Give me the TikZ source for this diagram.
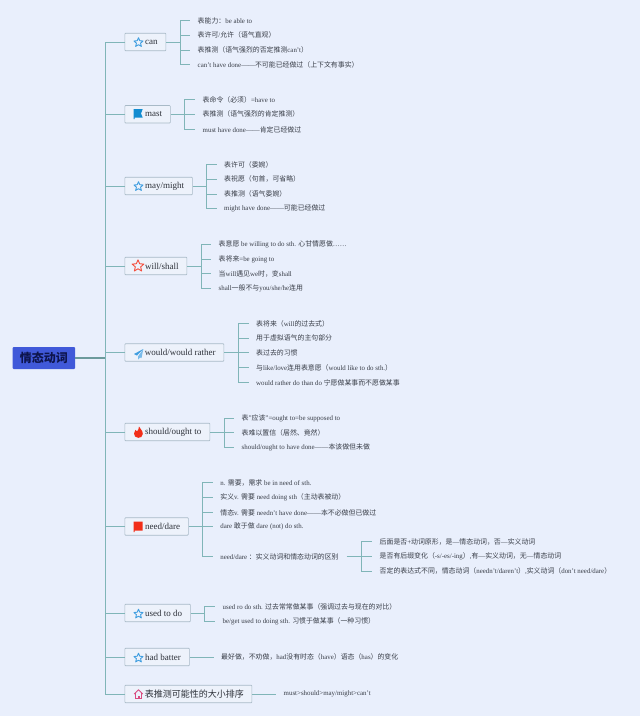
\documentclass[tikz,border=0pt]{standalone}
\usepackage{fontspec}
\usepackage{tikz}
\setmainfont{Liberation Serif}
\newfontfamily\cjk{Noto Sans CJK SC}

% CJK runs pick their own font
\newXeTeXintercharclass\zhclass
\count255="4E00
\loop \XeTeXcharclass\count255=\zhclass \ifnum\count255<"9FFF \advance\count255 by 1 \repeat
\count255="FF00
\loop \XeTeXcharclass\count255=\zhclass \ifnum\count255<"FFEF \advance\count255 by 1 \repeat
\count255="3000
\loop \XeTeXcharclass\count255=\zhclass \ifnum\count255<"303F \advance\count255 by 1 \repeat
\XeTeXinterchartoks 0 \zhclass = {\cjk}
\XeTeXinterchartoks 4095 \zhclass = {\cjk}
\XeTeXinterchartoks \zhclass 0 = {\rmfamily}
\XeTeXinterchartoks \zhclass 4095 = {\rmfamily}
\XeTeXinterchartokenstate=1

\definecolor{mpaper}{rgb}{0.914, 0.937, 0.988}
\definecolor{mteal}{rgb}{0.50, 0.71, 0.72}
\definecolor{mroot}{rgb}{0.25, 0.35, 0.85}
\definecolor{mnavy}{rgb}{0.05, 0.08, 0.30}
\definecolor{mbox}{rgb}{0.93, 0.95, 0.985}
\definecolor{medge}{rgb}{0.66, 0.73, 0.78}
\definecolor{mink}{rgb}{0.22, 0.24, 0.28}
\definecolor{mstar}{rgb}{0.25, 0.62, 0.88}
\definecolor{mflag}{rgb}{0.07, 0.55, 0.82}
\definecolor{mred}{rgb}{0.95, 0.18, 0.10}
\definecolor{mpink}{rgb}{0.85, 0.30, 0.50}

\tikzset{branch/.style = {draw=medge, fill=mbox, line width=0.7pt, rounded corners=0.8pt, anchor=west,
                          minimum height=17.5, inner xsep=0, inner ysep=0, text=mink!80!black,
                          font=\fontsize{9}{10}\selectfont},
         leaf/.style = {anchor=west, inner xsep=7.5, inner ysep=0, text=mink,
                        font=\fontsize{6.9}{8}\selectfont},
         twig/.style = {draw=mteal, line width=0.8pt},
         bough/.style = {draw=mteal, line width=0.9pt}}

\begin{document}
\begin{tikzpicture}[x=1pt, y=-1pt]
  \useasboundingbox (0, 0) rectangle (640, 716);
  \fill [mpaper] (0, 0) rectangle (640, 716);

  % root and the branch boxes
  \node (root) at (12.5, 358) [anchor=west, fill=mroot, rounded corners=1pt, minimum width=62.5, minimum height=22,
                               inner sep=0, text=mnavy, font=\fontsize{12}{13}\selectfont\bfseries] {情态动词};
  \coordinate (spine) at (105, 358);

  \node (can) at (124.5, 42) [branch, minimum width=41] {\hspace*{12pt}can};
  \node (mast) at (124.5, 114.3) [branch, minimum width=45.5] {\hspace*{12pt}mast};
  \node (may) at (124.5, 186) [branch, minimum width=67.5] {\hspace*{12pt}may/might};
  \node (will) at (124.5, 266) [branch, minimum width=62] {\hspace*{12pt}will/shall};
  \node (would) at (124.5, 352.5) [branch, minimum width=99] {\hspace*{12pt}would/would rather};
  \node (should) at (124.5, 432) [branch, minimum width=85] {\hspace*{12pt}should/ought to};
  \node (need) at (124.5, 526.4) [branch, minimum width=63.5] {\hspace*{12pt}need/dare};
  \node (used) at (124.5, 613) [branch, minimum width=65.5] {\hspace*{12pt}used to do};
  \node (had) at (124.5, 657) [branch, minimum width=64.5] {\hspace*{12pt}had batter};
  \node (order) at (124.5, 694) [branch, minimum width=127] {\hspace*{12pt}表推测可能性的大小排序};

  \draw [bough, line width=1.4pt, draw=mteal!85!black] (root) -- (spine);
  \foreach \b in {can,mast,may,will,would,should,need,used,had,order} {
    \draw [bough] (spine) |- (\b.west);
  }

  % blue stars
  \foreach \cx/\cy in {138.5/42.5, 138.5/186.5, 138.5/614, 138.5/658} {
    \begin{scope}[shift={(\cx, \cy)}]
      \draw [mstar, line width=0.9pt, line join=round] (90:-4.8) -- (54:-2.2) -- (18:-4.8) -- (-18:-2.2) -- (-54:-4.8)
        -- (-90:-2.2) -- (-126:-4.8) -- (-162:-2.2) -- (-198:-4.8) -- (-234:-2.2) -- cycle;
    \end{scope}
  }
  % red star
  \begin{scope}[shift={(138, 266)}]
    \draw [mred!85!white, line width=0.9pt, line join=round] (90:-6.2) -- (54:-2.8) -- (18:-6.2) -- (-18:-2.8) -- (-54:-6.2)
      -- (-90:-2.8) -- (-126:-6.2) -- (-162:-2.8) -- (-198:-6.2) -- (-234:-2.8) -- cycle;
  \end{scope}
  % flags
  \fill [mflag] (133.7, 109) -- (142.7, 109) -- (141, 113.5) -- (142.7, 117.5) -- (134.5, 117.5) -- (134.5, 119) -- (133.7, 119) -- cycle;
  \fill [mred] (133.7, 521.5) -- (142.7, 521.5) -- (142.7, 530.5) -- (134.5, 530.5) -- (134.5, 532) -- (133.7, 532) -- cycle;
  % plane
  \fill [mstar] (143.3, 349) -- (134, 354) -- (137, 355.5) -- cycle;
  \fill [mstar!70!white] (143.3, 349) -- (138, 356.5) -- (138, 359.5) -- (140, 357.5) -- (141.5, 358) -- cycle;
  % fire
  \fill [mred] (139, 426.5) .. controls (139.5, 429) and (143, 430) .. (142.8, 434)
    .. controls (142.6, 437) and (140.5, 437.8) .. (138.3, 437.8)
    .. controls (135.5, 437.8) and (134, 436) .. (134, 433.5)
    .. controls (134, 431.5) and (135.2, 431) .. (135.5, 429.8)
    .. controls (136.5, 430.5) and (136.7, 431) .. (137, 431.5)
    .. controls (138, 430) and (139, 429) .. cycle;
  % house
  \draw [mpink, line width=0.9pt, line join=round] (134.2, 694) -- (138.5, 689.8) -- (142.8, 694);
  \draw [mpink, line width=0.9pt] (135.8, 693) -- (135.8, 698.5) -- (141.2, 698.5) -- (141.2, 693);
  \fill [mpink] (137.5, 695.5) rectangle (139.5, 698.5);

  % can
  \coordinate (canfork) at (180, 42);
  \draw [twig] (can) -- (canfork);
  \node (can1) at (190, 20.5) [leaf] {表能力：be able to};
  \node (can2) at (190, 35) [leaf] {表许可/允许（语气直观）};
  \node (can3) at (190, 50) [leaf] {表推测（语气强烈的否定推测can't）};
  \node (can4) at (190, 64.5) [leaf] {can't have done——不可能已经做过（上下文有事实）};
  \foreach \n in {1,2,3,4} {
    \draw [twig] (canfork) |- (can\n.west);
  }

  % mast
  \coordinate (mastfork) at (184.5, 114.3);
  \draw [twig] (mast) -- (mastfork);
  \node (mast1) at (195, 99.5) [leaf] {表命令（必须）=have to};
  \node (mast2) at (195, 114.3) [leaf] {表推测（语气强烈的肯定推测）};
  \node (mast3) at (195, 129.5) [leaf] {must have done——肯定已经做过};
  \foreach \n in {1,2,3} {
    \draw [twig] (mastfork) |- (mast\n.west);
  }

  % may/might
  \coordinate (mayfork) at (206.5, 186);
  \draw [twig] (may) -- (mayfork);
  \node (may1) at (216.5, 164.5) [leaf] {表许可（委婉）};
  \node (may2) at (216.5, 179) [leaf] {表祝愿（句首，可省略）};
  \node (may3) at (216.5, 194) [leaf] {表推测（语气委婉）};
  \node (may4) at (216.5, 208.5) [leaf] {might have done——可能已经做过};
  \foreach \n in {1,2,3,4} {
    \draw [twig] (mayfork) |- (may\n.west);
  }

  % will/shall
  \coordinate (willfork) at (201, 266);
  \draw [twig] (will) -- (willfork);
  \node (will1) at (211, 244) [leaf] {表意愿 be willing to do sth. 心甘情愿做……};
  \node (will2) at (211, 259) [leaf] {表将来=be going to};
  \node (will3) at (211, 273.5) [leaf] {当will遇见we时，变shall};
  \node (will4) at (211, 288) [leaf] {shall一般不与you/she/he连用};
  \foreach \n in {1,2,3,4} {
    \draw [twig] (willfork) |- (will\n.west);
  }

  % would
  \coordinate (wouldfork) at (238.7, 352.5);
  \draw [twig] (would) -- (wouldfork);
  \node (would1) at (248.5, 323.5) [leaf] {表将来（will的过去式）};
  \node (would2) at (248.5, 338) [leaf] {用于虚拟语气的主句部分};
  \node (would3) at (248.5, 352.5) [leaf] {表过去的习惯};
  \node (would4) at (248.5, 367.5) [leaf] {与like/love连用表意愿（would like to do sth.）};
  \node (would5) at (248.5, 382.5) [leaf] {would rather do than do 宁愿做某事而不愿做某事};
  \foreach \n in {1,2,3,4,5} {
    \draw [twig] (wouldfork) |- (would\n.west);
  }

  % should
  \coordinate (shouldfork) at (224, 432);
  \draw [twig] (should) -- (shouldfork);
  \node (should1) at (234, 418) [leaf] {表"应该"=ought to=be supposed to};
  \node (should2) at (234, 432.5) [leaf] {表难以置信（居然、竟然）};
  \node (should3) at (234, 447.5) [leaf] {should/ought to have done——本该做但未做};
  \foreach \n in {1,2,3} {
    \draw [twig] (shouldfork) |- (should\n.west);
  }

  % need/dare
  \coordinate (needfork) at (202.7, 526.4);
  \draw [twig] (need) -- (needfork);
  \node (need1) at (212.7, 482.5) [leaf] {n. 需要，需求 be in need of sth.};
  \node (need2) at (212.7, 497.5) [leaf] {实义v. 需要 need doing sth（主动表被动）};
  \node (need3) at (212.7, 512.5) [leaf] {情态v. 需要 needn't have done——本不必做但已做过};
  \node (need4) at (212.7, 526.4) [leaf] {dare 敢于做 dare (not) do sth.};
  \node (need5) at (212.7, 556.7) [leaf] {need/dare ：实义动词和情态动词的区别};
  \foreach \n in {1,2,3,4,5} {
    \draw [twig] (needfork) |- (need\n.west);
  }

  \coordinate (diffstart) at (346.7, 556.7);
  \coordinate (difffork) at (361.3, 556.7);
  \draw [twig] (diffstart) -- (difffork);
  \node (diff1) at (372, 541.5) [leaf] {后面是否+动词原形，是—情态动词，否—实义动词};
  \node (diff2) at (372, 556.7) [leaf] {是否有后缀变化（-s/-es/-ing）,有—实义动词，无—情态动词};
  \node (diff3) at (372, 571.5) [leaf] {否定的表达式不同，情态动词（needn't/daren't）,实义动词（don't need/dare）};
  \foreach \n in {1,2,3} {
    \draw [twig] (difffork) |- (diff\n.west);
  }

  % used to do
  \coordinate (usedfork) at (204.3, 613);
  \draw [twig] (used) -- (usedfork);
  \node (used1) at (215, 606.5) [leaf] {used ro do sth. 过去常常做某事（强调过去与现在的对比）};
  \node (used2) at (215, 621.5) [leaf] {be/get used to doing sth. 习惯于做某事（一种习惯）};
  \foreach \n in {1,2} {
    \draw [twig] (usedfork) |- (used\n.west);
  }

  % had batter, order
  \node (had1) at (213.5, 657) [leaf] {最好做，不劝做，had没有时态（have）语态（has）的变化};
  \draw [twig] (had) -- (had1);
  \node (order1) at (276, 694) [leaf] {must>should>may/might>can't};
  \draw [twig] (order) -- (order1);
\end{tikzpicture}
\end{document}
